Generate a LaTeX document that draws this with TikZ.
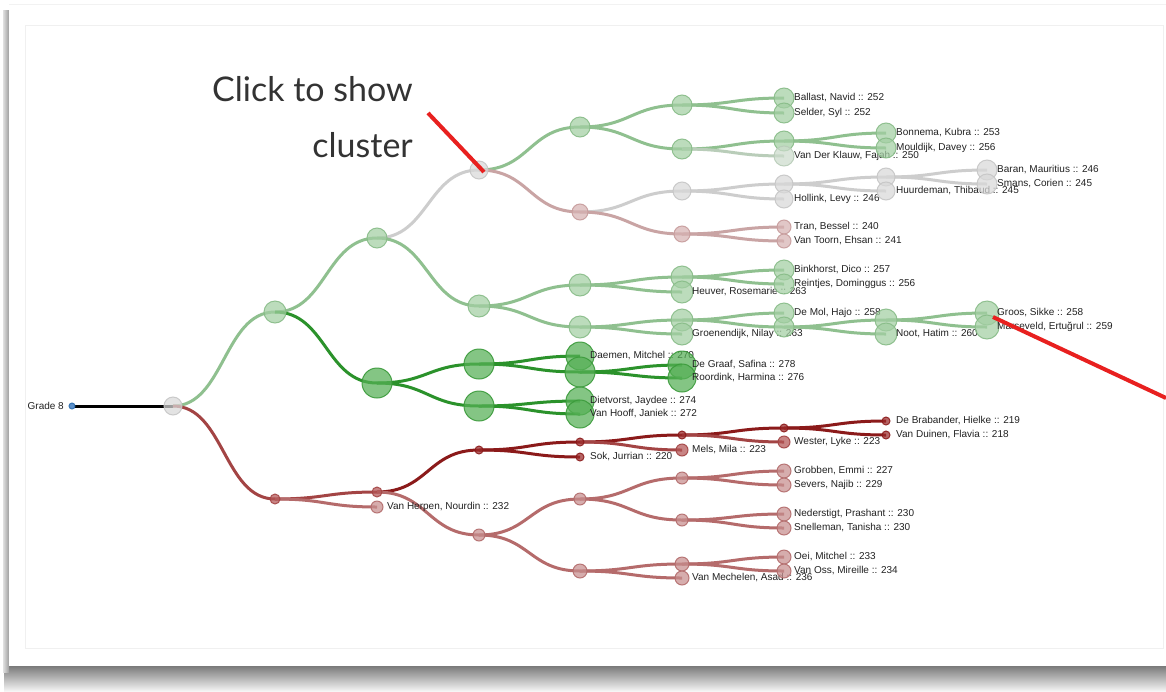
\documentclass[tikz,border=0pt]{standalone}
\usepackage{fontspec}
\setmainfont{Liberation Sans}
\newfontfamily\clickfont{Lato}
\usetikzlibrary{calc}
\pgfdeclarelayer{bg}
\pgfdeclarelayer{frame}
\pgfsetlayers{frame,bg,main}
\definecolor{LGl}{HTML}{8FC08F}\definecolor{LGf}{HTML}{A3CFA3}\definecolor{LGs}{HTML}{88BC88}
\definecolor{DGl}{HTML}{2B922B}\definecolor{DGf}{HTML}{55B055}\definecolor{DGs}{HTML}{3A9A3A}
\definecolor{GRl}{HTML}{CDCDCD}\definecolor{GRf}{HTML}{D9D9D9}\definecolor{GRs}{HTML}{C6C6C6}
\definecolor{PKl}{HTML}{C9A4A4}\definecolor{PKf}{HTML}{D6B2B2}\definecolor{PKs}{HTML}{C79C9C}
\definecolor{GGl}{HTML}{B9CDB9}\definecolor{GGf}{HTML}{CCDCCC}\definecolor{GGs}{HTML}{B8CCB8}
\definecolor{DRl}{HTML}{8B1A1A}\definecolor{DRf}{HTML}{9B2A2A}\definecolor{DRs}{HTML}{8B1A1A}
\definecolor{MRl}{HTML}{A34444}\definecolor{MRf}{HTML}{B35555}\definecolor{MRs}{HTML}{A34444}
\definecolor{LRl}{HTML}{B56B6B}\definecolor{LRf}{HTML}{C78E8E}\definecolor{LRs}{HTML}{B36C6C}
\definecolor{BLf}{HTML}{5B8FC9}\definecolor{BLs}{HTML}{2F6FB0}
\definecolor{lbltext}{HTML}{222222}
\definecolor{annot}{HTML}{E8201F}
\tikzset{
  dot/.style={circle, draw, inner sep=0pt, line width=1pt, fill opacity=0.72, draw opacity=0.9},
  lg/.style={dot, fill=LGf, draw=LGs},
  dg/.style={dot, fill=DGf, draw=DGs},
  gr/.style={dot, fill=GRf, draw=GRs},
  pk/.style={dot, fill=PKf, draw=PKs},
  gg/.style={dot, fill=GGf, draw=GGs},
  dr/.style={dot, fill=DRf, draw=DRs},
  mr/.style={dot, fill=MRf, draw=MRs},
  lr/.style={dot, fill=LRf, draw=LRs},
  bl/.style={dot, fill=BLf, draw=BLs, fill opacity=1},
  lnk/.style={line width=3pt},
  lbl/.style={anchor=west, inner sep=0pt, font=\fontsize{10}{12}\selectfont, text=lbltext},
  clicktxt/.style={anchor=base east, inner sep=0pt, font=\clickfont\fontsize{34}{40}\selectfont, text=black!80},
  annotline/.style={draw=annot, line width=4pt},
}
\newcommand\nd[5]{\node[#5, minimum size=#4pt] (#1) at (#2,#3) {};}
\newcommand\lf[6]{\node[#5, minimum size=#4pt] (#1) at (#2,#3) {};\node[lbl] (#1-l) at (#2+10,#3) {#6};}
\newcommand\lk[3]{\draw[lnk,draw=#3] (#1.center) .. controls +(51,0) and +(-51,0) .. (#2.center);}
\begin{document}
\begin{tikzpicture}[x=1pt,y=-1pt]
\useasboundingbox (0,0) rectangle (1166,691);
\begin{pgfonlayer}{frame}
\fill[white] (0,0) rectangle (1166,691);
\shade[top color=black!52, bottom color=black!4] (4,666) rectangle (1166,691);
\shade[left color=black!12, right color=black!38] (3,10) rectangle (9,672);
\fill[white] (9,4) rectangle (1166,666);
\draw[black!5, line width=0.8pt] (9,4.5) -- (1166,4.5);
\draw[black!6, line width=0.8pt] (25,25) rectangle (1163,648);
\end{pgfonlayer}
% nodes
\nd{g8}{72}{406}{6}{bl}
\node[lbl, anchor=east] (g8-l) at (64,406) {Grade 8};
\nd{root}{173}{406}{18}{gr}
\nd{a}{275}{312}{22}{lg}
\nd{b}{275}{499}{10}{mr}
\nd{a1}{377}{238}{20}{lg}
\nd{a2}{377}{383}{30}{dg}
\nd{b1}{377}{492}{10}{mr}
\lf{herpen}{377}{507}{12}{lr}{Van Herpen, Nourdin :: 232}
\nd{a1a}{479}{170}{18}{gr}
\nd{a1b}{479}{306}{22}{lg}
\nd{a2a}{479}{364}{30}{dg}
\nd{a2b}{479}{406}{30}{dg}
\nd{b1a}{479}{450}{8}{dr}
\nd{b1b}{479}{535}{12}{lr}
\nd{c1}{580}{127}{20}{lg}
\nd{c2}{580}{212}{16}{pk}
\nd{c3}{580}{285}{22}{lg}
\nd{c4}{580}{327}{22}{lg}
\lf{daemen}{580}{356}{28}{dg}{Daemen, Mitchel :: 270}
\nd{c5}{580}{372}{30}{dg}
\lf{dietvorst}{580}{401}{28}{dg}{Dietvorst, Jaydee :: 274}
\lf{vanhooff}{580}{414}{28}{dg}{Van Hooff, Janiek :: 272}
\nd{c6}{580}{442}{8}{dr}
\lf{sok}{580}{457}{8}{dr}{Sok, Jurrian :: 220}
\nd{c7}{580}{499}{12}{lr}
\nd{c8}{580}{571}{14}{lr}
\nd{d1}{682}{105}{20}{lg}
\nd{d2}{682}{149}{20}{lg}
\nd{d3}{682}{191}{18}{gr}
\nd{d4}{682}{234}{16}{pk}
\nd{d5}{682}{277}{22}{lg}
\lf{heuver}{682}{292}{22}{lg}{Heuver, Rosemarie :: 263}
\nd{d6}{682}{320}{22}{lg}
\lf{groenendijk}{682}{334}{22}{lg}{Groenendijk, Nilay :: 263}
\lf{degraaf}{682}{365}{28}{dg}{De Graaf, Safina :: 278}
\lf{roordink}{682}{378}{28}{dg}{Roordink, Harmina :: 276}
\nd{d7}{682}{435}{8}{dr}
\lf{mels}{682}{450}{12}{mr}{Mels, Mila :: 223}
\nd{d8}{682}{478}{12}{lr}
\nd{d9}{682}{520}{12}{lr}
\nd{d10}{682}{564}{14}{lr}
\lf{vanmechelen}{682}{578}{14}{lr}{Van Mechelen, Asad :: 236}
\lf{ballast}{784}{98}{20}{lg}{Ballast, Navid :: 252}
\lf{selder}{784}{113}{20}{lg}{Selder, Syl :: 252}
\nd{e1}{784}{141}{20}{lg}
\lf{vanderklauw}{784}{156}{20}{gg}{Van Der Klauw, Fajah :: 250}
\nd{e2}{784}{184}{18}{gr}
\lf{hollink}{784}{199}{18}{gr}{Hollink, Levy :: 246}
\lf{tran}{784}{227}{14}{pk}{Tran, Bessel :: 240}
\lf{vantoorn}{784}{241}{14}{pk}{Van Toorn, Ehsan :: 241}
\lf{binkhorst}{784}{270}{20}{lg}{Binkhorst, Dico :: 257}
\lf{reintjes}{784}{284}{20}{lg}{Reintjes, Dominggus :: 256}
\lf{demol}{784}{313}{20}{lg}{De Mol, Hajo :: 258}
\nd{e3}{784}{327}{20}{lg}
\nd{e4}{784}{428}{8}{dr}
\lf{wester}{784}{442}{12}{mr}{Wester, Lyke :: 223}
\lf{grobben}{784}{471}{14}{lr}{Grobben, Emmi :: 227}
\lf{severs}{784}{485}{14}{lr}{Severs, Najib :: 229}
\lf{nederstigt}{784}{514}{14}{lr}{Nederstigt, Prashant :: 230}
\lf{snelleman}{784}{528}{14}{lr}{Snelleman, Tanisha :: 230}
\lf{oei}{784}{557}{14}{lr}{Oei, Mitchel :: 233}
\lf{vanoss}{784}{571}{14}{lr}{Van Oss, Mireille :: 234}
\lf{bonnema}{886}{133}{20}{lg}{Bonnema, Kubra :: 253}
\lf{mouldijk}{886}{148}{20}{lg}{Mouldijk, Davey :: 256}
\nd{f1}{886}{177}{18}{gr}
\lf{huurdeman}{886}{191}{18}{gr}{Huurdeman, Thibaud :: 245}
\nd{f2}{886}{320}{22}{lg}
\lf{noot}{886}{334}{22}{lg}{Noot, Hatim :: 260}
\lf{debrabander}{886}{421}{8}{dr}{De Brabander, Hielke :: 219}
\lf{vanduinen}{886}{435}{8}{dr}{Van Duinen, Flavia :: 218}
\lf{baran}{987}{170}{20}{gr}{Baran, Mauritius :: 246}
\lf{smans}{987}{184}{20}{gr}{Smans, Corien :: 245}
\lf{groos}{987}{313}{24}{lg}{Groos, Sikke :: 258}
\lf{marseveld}{987}{327}{24}{lg}{Marseveld, Ertuğrul :: 259}
% links
\begin{pgfonlayer}{bg}
\draw[lnk, black] (g8.center) -- (root.center);
\lk{root}{a}{LGl}
\lk{root}{b}{MRl}
\lk{a}{a1}{LGl}
\lk{a}{a2}{DGl}
\lk{b}{b1}{MRl}
\lk{b}{herpen}{LRl}
\lk{a1}{a1a}{GRl}
\lk{a1}{a1b}{LGl}
\lk{a2}{a2a}{DGl}
\lk{a2}{a2b}{DGl}
\lk{b1}{b1a}{DRl}
\lk{b1}{b1b}{LRl}
\lk{a1a}{c1}{LGl}
\lk{a1a}{c2}{PKl}
\lk{a1b}{c3}{LGl}
\lk{a1b}{c4}{LGl}
\lk{a2a}{daemen}{DGl}
\lk{a2a}{c5}{DGl}
\lk{a2b}{dietvorst}{DGl}
\lk{a2b}{vanhooff}{DGl}
\lk{b1a}{c6}{DRl}
\lk{b1a}{sok}{DRl}
\lk{b1b}{c7}{LRl}
\lk{b1b}{c8}{LRl}
\lk{c1}{d1}{LGl}
\lk{c1}{d2}{LGl}
\lk{c2}{d3}{GRl}
\lk{c2}{d4}{PKl}
\lk{c3}{d5}{LGl}
\lk{c3}{heuver}{LGl}
\lk{c4}{d6}{LGl}
\lk{c4}{groenendijk}{LGl}
\lk{c5}{degraaf}{DGl}
\lk{c5}{roordink}{DGl}
\lk{c6}{d7}{DRl}
\lk{c6}{mels}{MRl}
\lk{c7}{d8}{LRl}
\lk{c7}{d9}{LRl}
\lk{c8}{d10}{LRl}
\lk{c8}{vanmechelen}{LRl}
\lk{d1}{ballast}{LGl}
\lk{d1}{selder}{LGl}
\lk{d2}{e1}{LGl}
\lk{d2}{vanderklauw}{GGl}
\lk{d3}{e2}{GRl}
\lk{d3}{hollink}{GRl}
\lk{d4}{tran}{PKl}
\lk{d4}{vantoorn}{PKl}
\lk{d5}{binkhorst}{LGl}
\lk{d5}{reintjes}{LGl}
\lk{d6}{demol}{LGl}
\lk{d6}{e3}{LGl}
\lk{d7}{e4}{DRl}
\lk{d7}{wester}{MRl}
\lk{d8}{grobben}{LRl}
\lk{d8}{severs}{LRl}
\lk{d9}{nederstigt}{LRl}
\lk{d9}{snelleman}{LRl}
\lk{d10}{oei}{LRl}
\lk{d10}{vanoss}{LRl}
\lk{e1}{bonnema}{LGl}
\lk{e1}{mouldijk}{LGl}
\lk{e2}{f1}{GRl}
\lk{e2}{huurdeman}{GRl}
\lk{e3}{f2}{LGl}
\lk{e3}{noot}{LGl}
\lk{e4}{debrabander}{DRl}
\lk{e4}{vanduinen}{DRl}
\lk{f1}{baran}{GRl}
\lk{f1}{smans}{GRl}
\lk{f2}{groos}{LGl}
\lk{f2}{marseveld}{LGl}
\end{pgfonlayer}
% annotations
\node[clicktxt] (click1) at (413,101) {Click to show};
\node[clicktxt] (click2) at (413,157) {cluster};
\coordinate (ann1) at (428,113);
\coordinate (ann2) at (1166,398);
\draw[annotline] (ann1) -- ($(a1a.center)+(5,2)$);
\draw[annotline] ($(groos.center)+(6,4)$) -- (ann2);
\end{tikzpicture}
\end{document}
